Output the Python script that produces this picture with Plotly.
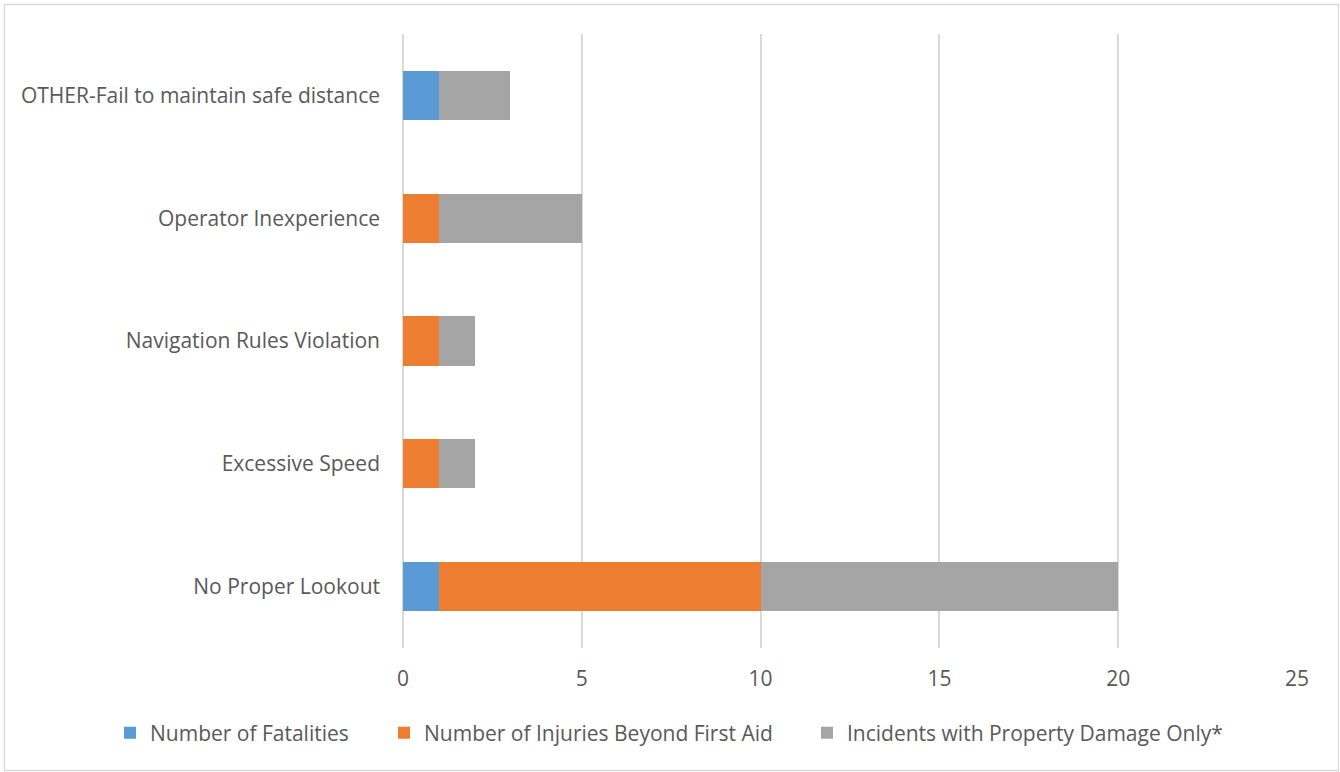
import plotly.graph_objects as go

categories = ["No Proper Lookout", "Excessive Speed", "Navigation Rules Violation",
              "Operator Inexperience", "OTHER-Fail to maintain safe distance"]
fatalities = [1, 0, 0, 0, 1]
injuries = [9, 1, 1, 1, 0]
property_damage = [10, 1, 1, 4, 2]
series_names = ["Number of Fatalities", "Number of Injuries Beyond First Aid",
                "Incidents with Property Damage Only*"]
colors = ["#5B9BD5", "#ED7D31", "#A5A5A5"]

W, H = 1340, 772
L, R, T, B = 403, 43, 34, 124
pw, ph = W - L - R, H - T - B

legend_ids = ["legend", "legend2", "legend3"]
legend_left_px = [110, 384, 807]

fig = go.Figure()
for name, vals, c, lid in zip(series_names, [fatalities, injuries, property_damage], colors, legend_ids):
    fig.add_trace(go.Bar(y=categories, x=vals, name=name, orientation="h", legend=lid,
                         marker=dict(color=c, line=dict(width=0)), width=0.4))

font = dict(family="'Open Sans', sans-serif", size=21, color="#595959")
layout_legends = {}
for lid, lx in zip(legend_ids, legend_left_px):
    layout_legends[lid] = dict(x=(lx - L) / pw, xanchor="left",
                               y=(T + ph - 733) / ph, yanchor="middle",
                               font=font, itemwidth=30, bgcolor="rgba(0,0,0,0)",
                               tracegroupgap=0)

fig.update_layout(
    width=W, height=H, barmode="stack",
    margin=dict(l=L, r=R, t=T, b=B, autoexpand=False),
    paper_bgcolor="white", plot_bgcolor="white",
    font=font,
    xaxis=dict(range=[0, 25], dtick=5, showgrid=True, gridcolor="#D9D9D9", gridwidth=1.5,
               zeroline=True, zerolinecolor="#D9D9D9", zerolinewidth=1.5,
               showline=False, ticks="", ticklabelstandoff=16,
               tickfont=font, fixedrange=True),
    yaxis=dict(showgrid=False, zeroline=False, showline=False, ticks="",
               ticklabelstandoff=22, tickfont=font, range=[-0.5, 4.5], fixedrange=True),
    showlegend=True,
    **layout_legends,
)
fig.add_shape(type="rect", xref="paper", yref="paper",
              x0=(4.5 - L) / pw, x1=(1338.5 - L) / pw,
              y0=(T + ph - 770.5) / ph, y1=(T + ph - 4.5) / ph,
              line=dict(color="#D9D9D9", width=1.3), fillcolor="rgba(0,0,0,0)", layer="below")
fig.write_html("out.html", config={"displayModeBar": False},
               post_script="document.body.style.margin='0';document.body.style.overflow='hidden';")
